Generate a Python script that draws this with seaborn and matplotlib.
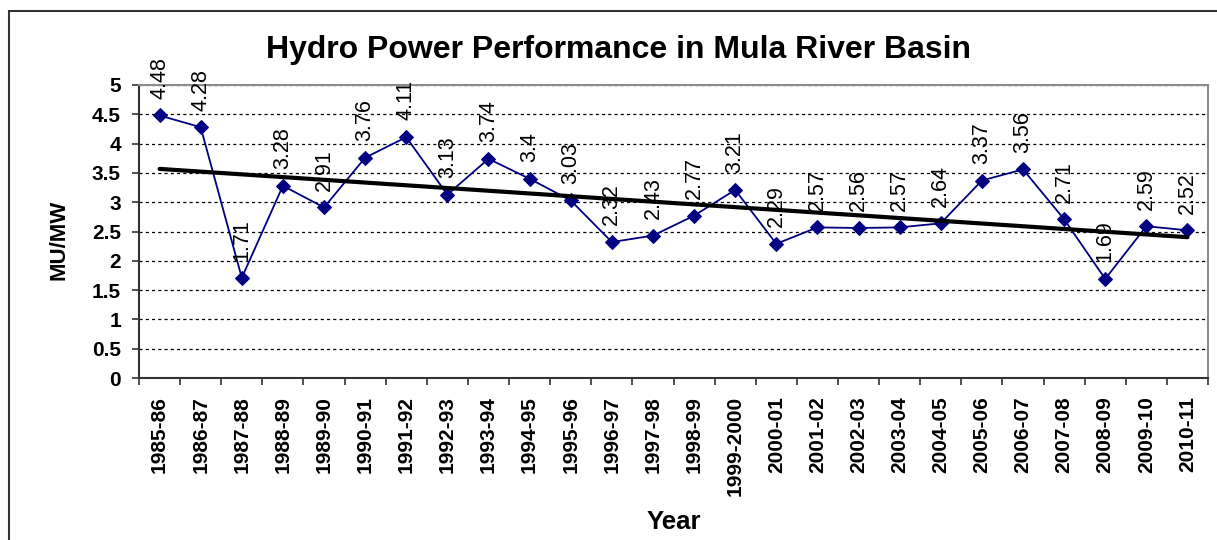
import numpy as np
import pandas as pd
import matplotlib
matplotlib.use("Agg")
import matplotlib.pyplot as plt
from matplotlib.patches import Rectangle
import seaborn as sns

years = ["1985-86", "1986-87", "1987-88", "1988-89", "1989-90", "1990-91",
         "1991-92", "1992-93", "1993-94", "1994-95", "1995-96", "1996-97",
         "1997-98", "1998-99", "1999-2000", "2000-01", "2001-02", "2002-03",
         "2003-04", "2004-05", "2005-06", "2006-07", "2007-08", "2008-09",
         "2009-10", "2010-11"]
mu_mw = [4.48, 4.28, 1.71, 3.28, 2.91, 3.76, 4.11, 3.13, 3.74, 3.4, 3.03,
         2.32, 2.43, 2.77, 3.21, 2.29, 2.57, 2.56, 2.57, 2.64, 3.37, 3.56,
         2.71, 1.69, 2.59, 2.52]
y_ticks = [0, 0.5, 1, 1.5, 2, 2.5, 3, 3.5, 4, 4.5, 5]
y_tick_labels = ["0", "0.5", "1", "1.5", "2", "2.5", "3", "3.5", "4", "4.5", "5"]

df = pd.DataFrame({"pos": np.arange(len(years)), "year": years, "value": mu_mw})

sns.set_style("white")
plt.rcParams["font.family"] = ["Liberation Sans", "DejaVu Sans"]
plt.rcParams["text.color"] = "black"
plt.rcParams["axes.labelcolor"] = "black"
plt.rcParams["xtick.color"] = "black"
plt.rcParams["ytick.color"] = "black"

W, H = 1217, 540
fig = plt.figure(figsize=(W / 100, H / 100), dpi=100)
ax = fig.add_axes([139 / W, 1 - 378 / H, (1208 - 139) / W, (378 - 85) / H])

navy = "#000080"
sns.lineplot(data=df, x="pos", y="value", ax=ax, color=navy, lw=1.3,
             marker="D", markersize=7, markeredgecolor=navy, markerfacecolor=navy,
             zorder=3)
sns.regplot(data=df, x="pos", y="value", ax=ax, scatter=False, ci=None,
            truncate=True, color="black", line_kws={"lw": 3, "zorder": 5})

for p, v in zip(df["pos"], df["value"]):
    ax.annotate(f"{v:g}", (p, v), xytext=(0, 12), textcoords="offset points",
                rotation=90, ha="center", va="bottom", fontsize=15.5,
                color="black", zorder=4)

ax.set_xlim(-0.5, len(years) - 0.5)
ax.set_ylim(0, 5)
ax.set_yticks(y_ticks)
ax.set_yticklabels(y_tick_labels, fontsize=15, fontweight="bold")
ax.set_xticks(df["pos"])
ax.set_xticklabels(years, rotation=90, fontsize=15, fontweight="bold")
ax.set_xticks(np.arange(-0.5, len(years)), minor=True)
ax.tick_params(axis="x", which="major", length=0, pad=13)
ax.tick_params(axis="x", which="minor", length=5, width=1.2, direction="out",
               color="#333333", bottom=True)
ax.tick_params(axis="y", length=5, width=1.2, direction="out", color="#333333",
               pad=8, left=True)

ax.set_axisbelow(True)
ax.yaxis.grid(True, linestyle=(0, (2.5, 2.5)), color="black", lw=0.9)
ax.xaxis.grid(False)

for s in ["left", "bottom"]:
    ax.spines[s].set_color("#333333")
    ax.spines[s].set_linewidth(1.5)
for s in ["top", "right"]:
    ax.spines[s].set_color("#8c8c8c")
    ax.spines[s].set_linewidth(1.5)

ax.set_ylabel("MU/MW", fontsize=16, fontweight="bold")
ax.yaxis.set_label_coords((70 - 139) / 1069, (378 - 240) / 293)
ax.set_xlabel("Year", fontsize=18.5, fontweight="bold")
ax.xaxis.set_label_coords(0.5, (378 - 510) / 293)

fig.text(619 / W, 1 - 50 / H, "Hydro Power Performance in Mula River Basin",
         ha="center", va="center", fontsize=23, fontweight="bold", color="black")

fig.patches.append(Rectangle((9 / W, -0.1), 1.2, 1 - 11 / H + 0.1,
                             transform=fig.transFigure, fill=False,
                             ec="#333333", lw=1.5))

fig.savefig("out.png", dpi=100)
